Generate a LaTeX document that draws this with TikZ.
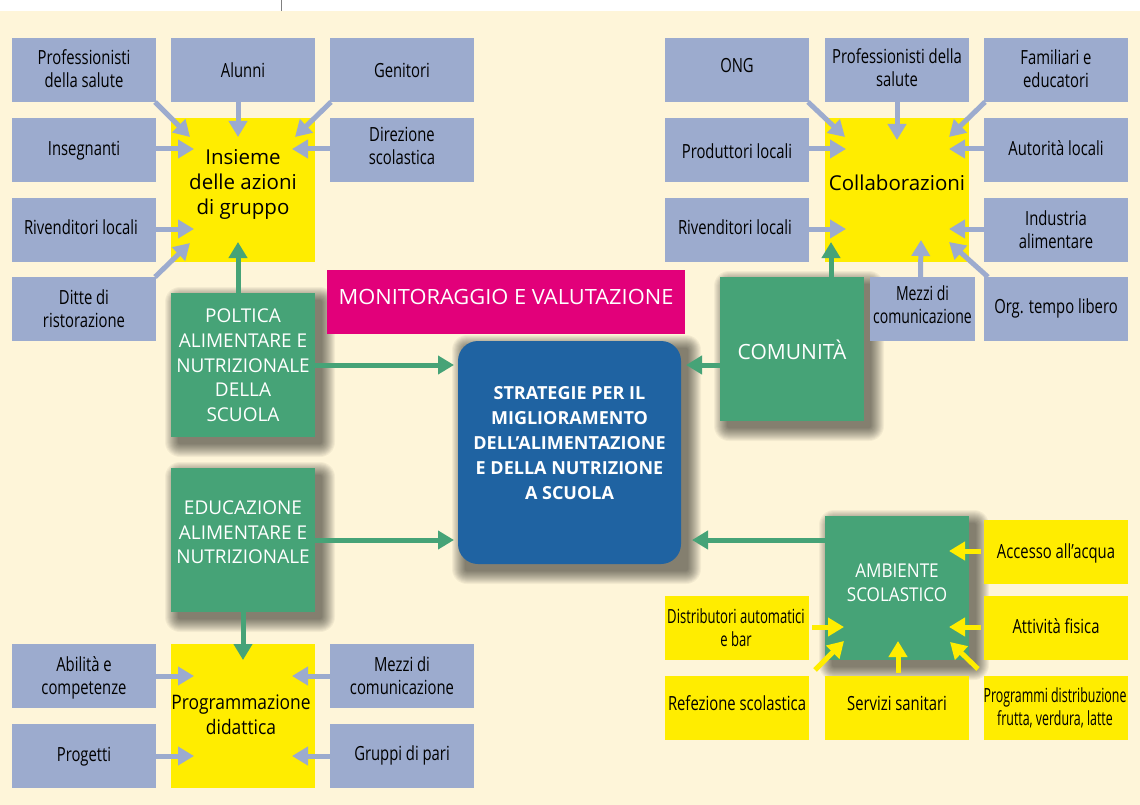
\documentclass[tikz,border=0pt]{standalone}
\usepackage{fontspec}
\setmainfont{Open Sans}
\newfontfamily\condf[FakeStretch=0.76]{Open Sans}
\newfontfamily\condn[FakeStretch=0.67]{Open Sans}
\newfontfamily\condp[FakeStretch=0.635]{Open Sans}
\newfontfamily\condm[FakeStretch=0.72]{Open Sans}
\newfontfamily\regf[FakeStretch=0.9]{Open Sans}
\newfontfamily\progf[FakeStretch=0.87]{Open Sans}
\newfontfamily\fullf[FakeStretch=1.0]{Open Sans}
\newfontfamily\widef[FakeStretch=1.04]{Open Sans}
\usetikzlibrary{arrows.meta}
\definecolor{cream}{HTML}{FEF5D9}
\definecolor{bluebox}{HTML}{9CABCE}
\definecolor{yel}{HTML}{FFED00}
\definecolor{grn}{HTML}{46A377}
\definecolor{core}{HTML}{1F63A2}
\definecolor{mag}{HTML}{E2007A}
\pgfdeclarelayer{bg}
\pgfsetlayers{bg,main}
\newcommand\tx[3]{\raisebox{\dimexpr#2pt-6.5pt\relax}[0pt][0pt]{\makebox[0pt][c]{\hspace*{#1pt}\hspace*{#1pt}\begin{tabular}[c]{@{}c@{}}#3\end{tabular}}}}
% style, name, x1, y1, x2, y2, dx, dy, text
\newcommand\bx[9]{\node[#1,minimum width={(#5-#3)*1pt},minimum height={(#6-#4)*1pt}] (#2) at ({(#3+#5)/2},{(#4+#6)/2}) {\tx{#7}{#8}{#9}};}
\newcommand\ar[5]{\draw[#1] ([shift={(#3)}]#2) -- ([shift={(#5)}]#4);}
\newcommand\shad[1]{\foreach \r in {13,12,...,0}{\fill[black,opacity=.045,rounded corners={(\r+2)*1pt}] ([shift={(7-\r,7-\r)}]#1.north west) rectangle ([shift={(7+\r,7+\r)}]#1.south east);}}
\tikzset{
 base/.style={inner sep=0pt,outer sep=0pt,rectangle},
 smallbox/.style={base,fill=bluebox,text=black,font=\fontsize{19.5}{23}\condf\selectfont},
 yelsmall/.style={base,fill=yel,text=black,font=\fontsize{19.5}{23}\condf\selectfont},
 yelbig/.style={base,fill=yel,text=black,font=\fontsize{20.5}{25}\fullf\selectfont},
 grnbox/.style={base,fill=grn,text=white,font=\fontsize{19}{24.6}\fullf\selectfont},
 magbox/.style={base,fill=mag,text=white,font=\fontsize{21}{25}\widef\selectfont},
 corebox/.style={base,fill=core,text=white,rounded corners=20pt,font=\fontsize{18}{25}\fullf\bfseries\selectfont},
 arrowbase/.style={line width=5pt,-{Triangle[length=16pt,width=18pt]}},
 bluearr/.style={arrowbase,draw=bluebox},
 grnarr/.style={arrowbase,draw=grn},
 yelarr/.style={arrowbase,draw=yel},
}
\begin{document}
\begin{tikzpicture}[x=1pt,y=-1pt]
\useasboundingbox (0,0) rectangle (1140,805);
\begin{pgfonlayer}{bg}
\fill[white] (0,0) rectangle (1140,805);
\fill[cream] (0,11) rectangle (1140,805);
\draw[gray,line width=1pt] (281,0) -- (281,11);
\end{pgfonlayer}
% top left
\bx{smallbox}{prof}{12}{38}{156}{102}{0}{0}{Professionisti\\della salute}
\bx{smallbox}{alu}{171}{38}{315}{102}{0}{-2}{Alunni}
\bx{smallbox}{gen}{330}{38}{474}{102}{0}{-2}{Genitori}
\bx{smallbox}{ins}{12}{118}{156}{182}{0}{0}{Insegnanti}
\bx{smallbox}{dir}{330}{118}{474}{182}{0}{3}{Direzione\\scolastica}
\bx{smallbox}{riv}{12}{198}{156}{262}{-3}{1}{Rivenditori locali}
\bx{smallbox}{dit}{12}{277}{156}{341}{0}{-1}{Ditte di\\ristorazione}
\bx{yelbig}{azioni}{171}{118}{315}{262}{0}{7}{Insieme\\delle azioni\\di gruppo}
\bx{grnbox}{pol}{171}{293}{315}{437}{0}{0}{POLTICA\\ALIMENTARE E\\NUTRIZIONALE\\DELLA\\SCUOLA}
\bx{magbox}{mon}{327}{270}{685}{334}{0}{4}{MONITORAGGIO E VALUTAZIONE}
\bx{corebox}{cen}{458}{341}{681}{564}{0}{10}{STRATEGIE PER IL\\MIGLIORAMENTO\\DELL’ALIMENTAZIONE\\E DELLA NUTRIZIONE\\A SCUOLA}
\bx{grnbox}{edu}{171}{468}{315}{612}{0}{8}{EDUCAZIONE\\ALIMENTARE E\\NUTRIZIONALE}
\bx{yelbig}{prog}{171}{644}{315}{788}{-2}{0}{\fontsize{20}{25}\progf\selectfont Programmazione\\\fontsize{20}{25}\progf\selectfont didattica}
\bx{smallbox}{abi}{12}{644}{156}{708}{0}{-1}{Abilità e\\competenze}
\bx{smallbox}{prg}{12}{724}{156}{788}{0}{0}{Progetti}
\bx{smallbox}{mez}{330}{644}{474}{708}{0}{-1}{Mezzi di\\comunicazione}
\bx{smallbox}{gru}{330}{724}{474}{788}{0}{1}{Gruppi di pari}
% top right
\bx{smallbox}{ong}{665}{38}{809}{102}{0}{3}{ONG}
\bx{smallbox}{prs}{825}{38}{969}{102}{0}{1}{Professionisti della\\salute}
\bx{smallbox}{fam}{984}{38}{1128}{102}{0}{0}{Familiari e\\educatori}
\bx{smallbox}{pro}{665}{118}{809}{182}{0}{-3}{Produttori locali}
\bx{smallbox}{aut}{984}{118}{1128}{182}{0}{0}{Autorità locali}
\bx{smallbox}{rvd}{665}{198}{809}{262}{-2}{1}{Rivenditori locali}
\bx{smallbox}{ind}{984}{198}{1128}{262}{0}{-1.5}{Industria\\alimentare}
\bx{yelbig}{col}{825}{118}{969}{262}{0}{6}{Collaborazioni}
\bx{grnbox}{com}{720}{277}{864}{421}{0}{-2}{\fontsize{21}{25}\fullf\selectfont COMUNITÀ}
\bx{smallbox}{mzz}{870}{277}{975}{341}{0}{3}{\condm Mezzi di\\\condm comunicazione}
\bx{smallbox}{org}{984}{277}{1128}{341}{0}{1}{Org. tempo libero}
% bottom right
\bx{grnbox}{amb}{825}{516}{969}{660}{0}{5.5}{\regf AMBIENTE\\\regf SCOLASTICO}
\bx{yelsmall}{acc}{984}{520}{1128}{584}{0}{-1}{Accesso all’acqua}
\bx{yelsmall}{att}{984}{596}{1128}{660}{0}{0}{Attività fisica}
\bx{yelsmall}{dis}{665}{596}{809}{660}{-1}{-1}{\condn Distributori automatici\\\condn e bar}
\bx{yelsmall}{ref}{665}{676}{809}{740}{0}{3}{Refezione scolastica}
\bx{yelsmall}{ser}{825}{676}{969}{740}{0}{3}{Servizi sanitari}
\bx{yelsmall}{pgm}{984}{676}{1128}{740}{-1}{0}{\condp Programmi distribuzione\\\condp frutta, verdura, latte}
% shadows
\begin{pgfonlayer}{bg}
\shad{pol}\shad{edu}\shad{com}\shad{amb}\shad{cen}
\end{pgfonlayer}
% blue arrows, left
\ar{bluearr}{prof.south east}{-1,0}{azioni.north west}{19,19}
\ar{bluearr}{alu.south}{-5,0}{azioni.north}{-5,19}
\ar{bluearr}{gen.south west}{1,0}{azioni.north east}{-20,19}
\ar{bluearr}{ins.east}{0,-1}{azioni.west}{23,-41}
\ar{bluearr}{dir.west}{0,-1}{azioni.east}{-23,-41}
\ar{bluearr}{riv.east}{0,-1}{azioni.west}{23,39}
\ar{bluearr}{dit.north east}{-1,0}{azioni.south west}{19,-19}
\ar{bluearr}{abi.east}{0,0}{prog.west}{23,-40}
\ar{bluearr}{prg.east}{0,0}{prog.west}{23,40}
\ar{bluearr}{mez.west}{0,0}{prog.east}{-23,-40}
\ar{bluearr}{gru.west}{0,0}{prog.east}{-23,40}
% blue arrows, right
\ar{bluearr}{ong.south east}{-1,0}{col.north west}{20,19}
\ar{bluearr}{prs.south}{0,0}{col.north}{0,22}
\ar{bluearr}{fam.south west}{1,0}{col.north east}{-20,19}
\ar{bluearr}{pro.east}{0,-1}{col.west}{21,-41}
\ar{bluearr}{aut.west}{0,-1}{col.east}{-20,-41}
\ar{bluearr}{rvd.east}{0,-1}{col.west}{21,39}
\ar{bluearr}{ind.west}{0,-1}{col.east}{-20,39}
\ar{bluearr}{mzz.north}{-2,0}{col.south}{24,-22}
\ar{bluearr}{org.north west}{4,0}{col.south east}{-20,-20}
% green arrows
\ar{grnarr}{pol.north}{-5,0}{azioni.south}{-5,-20}
\ar{grnarr}{pol.east}{0,0}{cen.west}{-4,-87.5}
\ar{grnarr}{edu.east}{0,0}{cen.west}{-4,87.5}
\ar{grnarr}{edu.south}{0,0}{prog.north}{0,16}
\ar{grnarr}{com.west}{0,16}{cen.east}{5,-87.5}
\ar{grnarr}{amb.west}{0,-48}{cen.east}{11,87.5}
\ar{grnarr}{com.north}{39,0}{col.south west}{6,-20}
% yellow arrows
\ar{yelarr}{acc.west}{-3,-1}{amb.east}{-20,-37}
\ar{yelarr}{att.west}{-3,-1}{amb.east}{-20,39}
\ar{yelarr}{dis.east}{3,-1}{amb.west}{19,39}
\ar{yelarr}{ref.north east}{6,-6}{amb.south west}{19,-19}
\ar{yelarr}{ser.north}{1,-3}{amb.south}{1,-19}
\ar{yelarr}{pgm.north west}{-6,-7}{amb.south east}{-19,-18}
\end{tikzpicture}
\end{document}
